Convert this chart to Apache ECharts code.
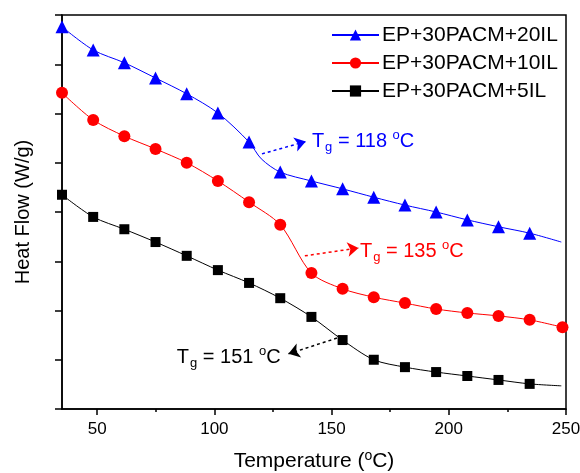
<!DOCTYPE html>
<html>
<head>
<meta charset="utf-8">
<script src="https://cdn.jsdelivr.net/npm/echarts@6/dist/echarts.min.js"></script>
<style>html,body{margin:0;padding:0;background:#fff}#c{width:580px;height:473px}</style>
</head>
<body>
<div id="c"></div>
<script>
// ---- data ----
const seriesNames = ['EP+30PACM+20IL', 'EP+30PACM+10IL', 'EP+30PACM+5IL'];
const seriesColors = ['#0000FF', '#FF0000', '#000000'];
const temps = [35, 48.3, 61.6, 74.9, 88.2, 101.5, 114.8, 128.1, 141.4, 154.7, 168, 181.3, 194.6, 207.9, 221.2, 234.5];
const heatFlow20IL = [7.76, 7.29, 7.03, 6.72, 6.40, 6.01, 5.42, 4.81, 4.63, 4.47, 4.30, 4.14, 4.00, 3.84, 3.70, 3.57];
const heatFlow10IL = [6.42, 5.87, 5.54, 5.28, 5.00, 4.63, 4.20, 3.74, 2.76, 2.44, 2.27, 2.15, 2.03, 1.95, 1.89, 1.81, 1.66];
const temps10IL = [35, 48.3, 61.6, 74.9, 88.2, 101.5, 114.8, 128.1, 141.4, 154.7, 168, 181.3, 194.6, 207.9, 221.2, 234.5, 248.5];
const heatFlow5IL = [4.35, 3.90, 3.65, 3.39, 3.11, 2.82, 2.56, 2.25, 1.87, 1.40, 1.00, 0.85, 0.75, 0.67, 0.59, 0.51];
// curve-only points (no marker)
const curve20IL = [[120.0, 5.08], [248, 3.39]];
const curve10IL = [];
const curve5IL = [[248, 0.47]];
const xTicks = [50, 100, 150, 200, 250];
const xMinorTicks = [75, 125, 175, 225];
// Tg annotations
const tgValues = [118, 135, 151];
const tgTextPos = [[141.6, 5.44], [162.1, 3.20], [84, 1.04]];
const tgArrows = [
  [[120.3, 5.18], [139.0, 5.43]],
  [[138.6, 3.11], [161.5, 3.27]],
  [[152.3, 1.44], [131.6, 1.12]]
];

const FONT = 'Liberation Sans, Arial, sans-serif';

function buildData(xs, ys, extras) {
  const pts = xs.map((x, i) => ({ value: [x, ys[i]] }));
  extras.forEach(p => pts.push({ value: [p[0], p[1]], symbol: 'none' }));
  pts.sort((a, b) => a.value[0] - b.value[0]);
  return pts;
}

const symbols = ['triangle', 'circle', 'rect'];
const symbolSizes = [13, 12, 10];
const datasets = [
  buildData(temps, heatFlow20IL, curve20IL),
  buildData(temps10IL, heatFlow10IL, curve10IL),
  buildData(temps, heatFlow5IL, curve5IL)
];

const series = seriesNames.map((name, i) => ({
  name: name,
  type: 'line',
  xAxisIndex: 0,
  yAxisIndex: 0,
  data: datasets[i],
  smooth: 0.3,
  clip: false,
  symbol: symbols[i],
  symbolSize: symbolSizes[i],
  showSymbol: true,
  itemStyle: { color: seriesColors[i] },
  lineStyle: { color: seriesColors[i], width: 1 },
  emphasis: { disabled: true },
  z: 3 - i + 2,
  markLine: {
    silent: true,
    symbol: ['none', 'arrow'],
    symbolSize: 11,
    label: { show: false },
    emphasis: { disabled: true },
    itemStyle: { color: seriesColors[i] },
    lineStyle: { color: seriesColors[i], type: [3, 3], width: 1.5 },
    data: [[{ coord: tgArrows[i][0] }, { coord: tgArrows[i][1] }]]
  }
}));

const chart = echarts.init(document.getElementById('c'), null, { renderer: 'canvas' });
chart.setOption({
  animation: false,
  backgroundColor: '#fff',
  grid: { left: 62, right: 14, top: 15, bottom: 64, outerBoundsMode: 'none', containLabel: false, show: true, borderColor: '#000', borderWidth: 1.5, backgroundColor: 'transparent' },
  legend: {
    data: seriesNames,
    orient: 'vertical',
    left: 326,
    top: 19,
    itemWidth: 47,
    itemHeight: 14,
    itemGap: 6,
    textStyle: { fontFamily: FONT, fontSize: 21, color: '#000', lineHeight: 22, padding: [0, 0, 0, -2] },
    selectedMode: false
  },
  xAxis: [{
    type: 'value', min: 35, max: 250,
    position: 'bottom',
    name: 'Temperature ({sup|o}C)',
    nameLocation: 'middle',
    nameGap: 40,
    nameTextStyle: { fontFamily: FONT, fontSize: 21, color: '#000', rich: { sup: { fontSize: 14, verticalAlign: 'top', padding: [0, 0, 10, 0] } } },
    axisLine: { show: true, lineStyle: { color: '#000', width: 1.5 } },
    axisTick: { show: true, inside: false, length: 6, customValues: xTicks, lineStyle: { color: '#000', width: 1.5 } },
    axisLabel: { show: true, customValues: xTicks, fontFamily: FONT, fontSize: 17, color: '#000', margin: 12 },
    splitLine: { show: false }
  }, {
    type: 'value', min: 35, max: 250,
    position: 'bottom',
    axisLine: { show: false },
    axisTick: { show: true, inside: false, length: 3, customValues: xMinorTicks, lineStyle: { color: '#000', width: 1.5 } },
    axisLabel: { show: false },
    splitLine: { show: false }
  }],
  yAxis: {
    type: 'value', min: 0, max: 8, interval: 1,
    name: 'Heat Flow (W/g)',
    nameLocation: 'middle',
    nameGap: 29,
    nameTextStyle: { fontFamily: FONT, fontSize: 20, color: '#000' },
    axisLine: { show: true, lineStyle: { color: '#000', width: 1.5 } },
    axisTick: { show: true, inside: false, length: 7, lineStyle: { color: '#000', width: 1.5 } },
    axisLabel: { show: false },
    splitLine: { show: false }
  },
  series: series
});

const graphics = tgValues.map((v, i) => {
  const p = chart.convertToPixel({ xAxisIndex: 0, yAxisIndex: 0 }, tgTextPos[i]);
  return {
    type: 'text',
    x: p[0],
    y: p[1],
    z: 100,
    style: {
      text: 'T{sub|g} = ' + v + ' {sup|o}C',
      fill: seriesColors[i],
      fontFamily: FONT,
      fontSize: 20,
      align: 'left',
      verticalAlign: 'middle',
      rich: {
        sub: { fontSize: 13, fontFamily: FONT, fill: seriesColors[i], verticalAlign: 'bottom', padding: [12, 0, 0, 1] },
        sup: { fontSize: 13, fontFamily: FONT, fill: seriesColors[i], verticalAlign: 'top', padding: [0, 0, 10, 0] }
      }
    }
  };
});
chart.setOption({ graphic: graphics });
</script>
</body>
</html>
